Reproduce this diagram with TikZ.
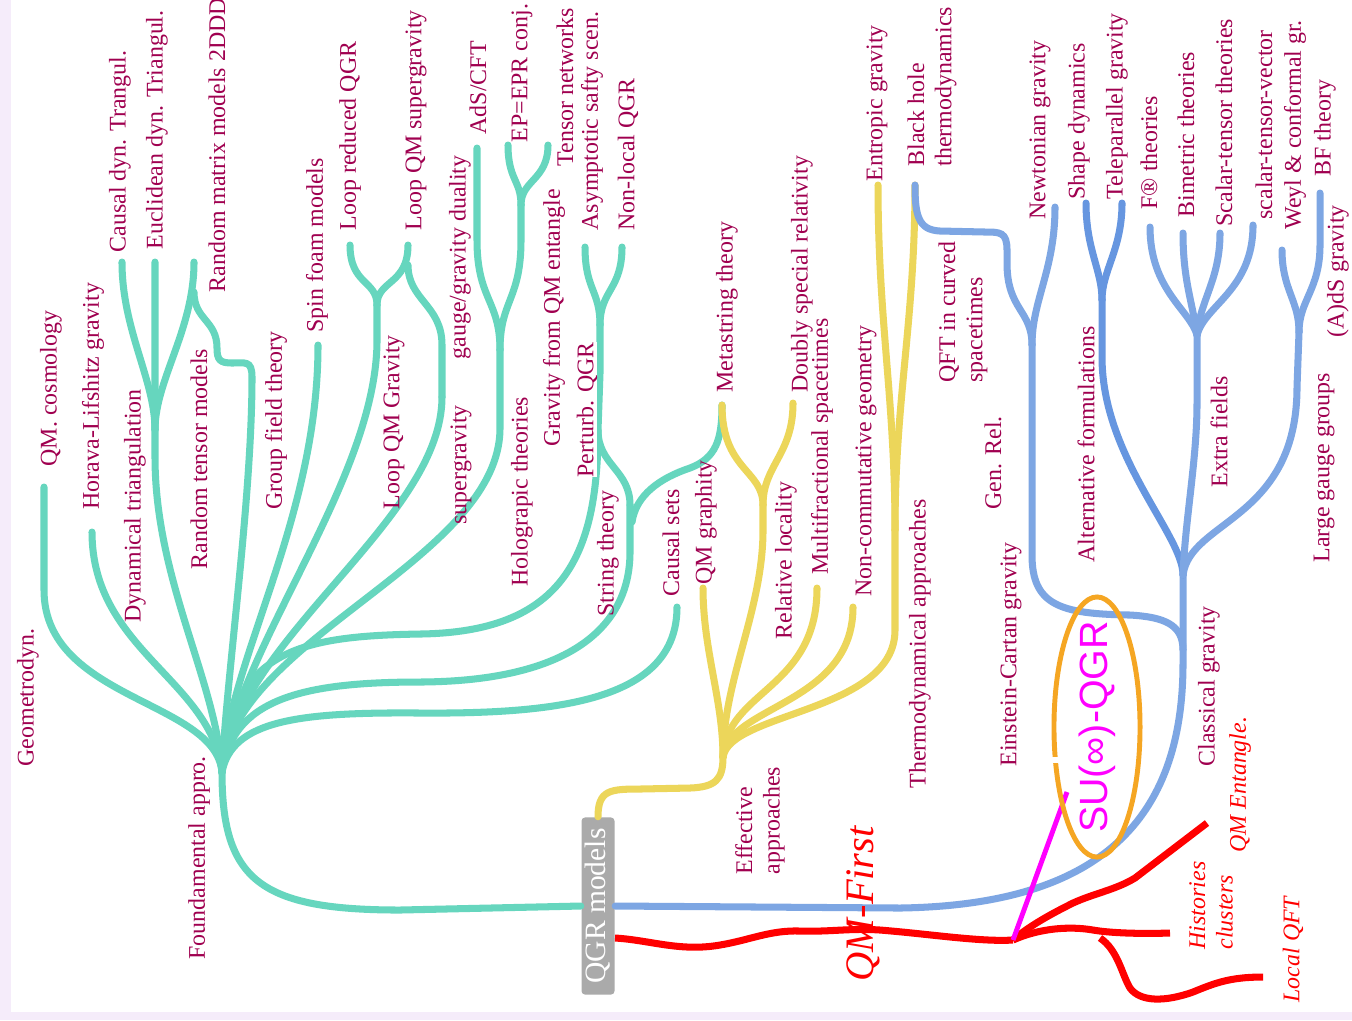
\documentclass[tikz,border=0pt]{standalone}
\usepackage{fontspec}
\setmainfont{Liberation Serif}
\newfontfamily\suqfont{Liberation Sans}
\usetikzlibrary{calc}

\definecolor{cTeal}{RGB}{102,214,190}
\definecolor{cYel}{RGB}{236,214,90}
\definecolor{cBlue}{RGB}{125,166,227}
\definecolor{cBlueD}{RGB}{102,150,224}
\definecolor{cLab}{RGB}{160,0,80}
\definecolor{cOrange}{RGB}{245,166,35}
\definecolor{cBox}{RGB}{170,170,170}
\definecolor{cLav}{RGB}{245,236,250}
\definecolor{cMag}{RGB}{255,0,255}
\definecolor{cRed}{RGB}{255,0,0}

\tikzset{
  tbr/.style={draw=cTeal, line width=2pt, line cap=round},
  ybr/.style={draw=cYel, line width=2pt, line cap=round},
  bbr/.style={draw=cBlue, line width=2pt, line cap=round},
  rln/.style={draw=cRed, line width=2pt},
  lab/.style={rotate=90, anchor=west, inner sep=0pt, text=cLab, align=left,
    font=\fontsize{6.8}{7.8}\selectfont},
  rlab/.style={lab, text=cRed, font=\fontsize{6.8}{7.8}\selectfont\itshape},
}

\begin{document}
\begin{tikzpicture}[x=0.01cm, y=-0.01cm]
			%%%%% START %%%%%
			\useasboundingbox (0,0) rectangle (1352,1020);
			\fill[cLav] (0,0) rectangle (1352,1020);
			\fill[white] (11,0) rectangle (1352,1012);
			
			\node[rotate=90, fill=cBox, text=white, rounded corners=1pt, inner sep=0pt,
			  minimum width=1.77cm, minimum height=0.33cm,
			  font=\fontsize{8.4}{9}\selectfont] (qgr) at (598,906) {QGR models};
			
			%%%%% TEAL %%%%%
			\coordinate (fa) at (222,772);
			\coordinate (geo) at (44,590);
			\coordinate (qmc) at (44,487);
			\coordinate (hor) at (92,532);
			\coordinate (dyn) at (155,457);
			\coordinate (dynm) at (155,430);
			\coordinate (cdt) at (122,262);
			\coordinate (edt) at (155,262);
			\coordinate (rmm) at (194,262);
			\coordinate (rmmB) at (194,292);
			\coordinate (rtm) at (252,377);
			\coordinate (rtmA) at (217,348);
			\coordinate (sfm) at (318,345);
			\coordinate (lqg) at (377,340);
			\coordinate (lqgm) at (377,305);
			\coordinate (lrq) at (350,245);
			\coordinate (lqs) at (408,245);
			\coordinate (lqsB) at (408,265);
			\coordinate (sugT) at (442,345);
			\coordinate (sug) at (442,397);
			\coordinate (hol) at (500,428);
			\coordinate (holm) at (500,350);
			\coordinate (ads) at (477,240);
			\coordinate (adsT) at (477,148);
			\coordinate (epr) at (521,240);
			\coordinate (eprm) at (521,205);
			\coordinate (eprT) at (508,145);
			\coordinate (tnT) at (548,145);
			\coordinate (pqgL) at (598,430);
			\coordinate (pqg) at (600,373);
			\coordinate (pqgm) at (600,325);
			\coordinate (ass) at (585,247);
			\coordinate (nlq) at (622,247);
			\coordinate (str) at (630,552);
			\coordinate (strm) at (630,505);
			\coordinate (strB) at (632,522);
			\coordinate (mA) at (690,468);
			\coordinate (meta) at (722,405);
			\coordinate (cs) at (677,607);
			\coordinate (wpA) at (420,634);
			\coordinate (wpB) at (420,682);
			\coordinate (wpC) at (420,713);
			\coordinate (wpT) at (400,910);
			
			\draw[tbr] (fa) .. controls (222,880) and (260,910) .. (wpT) -- (qgr.north);
			\draw[tbr] (fa) .. controls (215,700) and (44,700) .. (geo) -- (qmc);
			\draw[tbr] (fa) .. controls (212,680) and (92,650) .. (hor);
			\draw[tbr] (fa) .. controls (216,680) and (155,580) .. (dyn) -- (edt);
			\draw[tbr] (dynm) .. controls (155,380) and (122,330) .. (cdt);
			\draw[tbr] (dynm) .. controls (155,380) and (194,330) .. (rmm);
			\draw[tbr] (fa) .. controls (226,680) and (252,500) .. (rtm)
			  .. controls (252,360) and (245,363) .. (232,363)
			  .. controls (220,363) and (217,360) .. (rtmA)
			  .. controls (217,320) and (194,320) .. (rmmB);
			\draw[tbr] (fa) .. controls (228,660) and (318,520) .. (sfm);
			\draw[tbr] (fa) .. controls (235,650) and (377,480) .. (lqg) -- (lqgm);
			\draw[tbr] (lqgm) .. controls (377,280) and (350,285) .. (lrq);
			\draw[tbr] (lqgm) .. controls (377,280) and (408,285) .. (lqs);
			\draw[tbr] (lqsB) .. controls (408,300) and (442,305) .. (sugT) -- (sug);
			\draw[tbr] (fa) .. controls (235,640) and (442,520) .. (sug);
			\draw[tbr] (fa) .. controls (230,640) and (500,560) .. (hol) -- (holm);
			\draw[tbr] (holm) .. controls (500,300) and (477,300) .. (ads) -- (adsT);
			\draw[tbr] (holm) .. controls (500,300) and (521,300) .. (epr) -- (eprm);
			\draw[tbr] (eprm) .. controls (521,180) and (508,180) .. (eprT);
			\draw[tbr] (eprm) .. controls (521,180) and (548,180) .. (tnT);
			\draw[tbr] (fa) .. controls (230,650) and (300,636) .. (wpA)
			  .. controls (560,632) and (598,560) .. (pqgL) -- (pqg) -- (pqgm);
			\draw[tbr] (pqgm) .. controls (600,290) and (585,290) .. (ass);
			\draw[tbr] (pqgm) .. controls (600,290) and (622,290) .. (nlq);
			\draw[tbr] (fa) .. controls (232,700) and (300,682) .. (wpB)
			  .. controls (580,681) and (630,620) .. (str) -- (strm);
			\draw[tbr] (strm) .. controls (630,470) and (598,465) .. (pqgL);
			\draw[tbr] (strB) .. controls (636,495) and (660,478) .. (mA)
			  .. controls (716,458) and (722,440) .. (meta);
			\draw[tbr] (fa) .. controls (232,720) and (300,712) .. (wpC)
			  .. controls (560,714) and (677,700) .. (cs);
			
			%%%%% YELLOW %%%%%
			\coordinate (eff) at (723,757);
			\coordinate (yA) at (640,789);
			\coordinate (yB) at (690,788);
			\coordinate (qmg) at (703,588);
			\coordinate (rel) at (763,530);
			\coordinate (relm) at (763,505);
			\coordinate (dsr) at (793,403);
			\coordinate (mfs) at (817,588);
			\coordinate (ncg) at (853,607);
			\coordinate (thd) at (895,630);
			\coordinate (thdm) at (895,530);
			\coordinate (ent) at (878,185);
			\coordinate (bh) at (915,185);
			
			\draw[ybr] (qgr.east) .. controls (598,790) and (610,789) .. (yA) -- (yB)
			  .. controls (715,787) and (723,780) .. (eff);
			\draw[ybr] (eff) .. controls (723,700) and (703,650) .. (qmg);
			\draw[ybr] (eff) .. controls (723,680) and (763,610) .. (rel) -- (relm);
			\draw[ybr] (relm) .. controls (763,470) and (722,470) .. (meta);
			\draw[ybr] (relm) .. controls (763,465) and (793,455) .. (dsr);
			\draw[ybr] (eff) .. controls (726,690) and (817,690) .. (mfs);
			\draw[ybr] (eff) .. controls (728,705) and (853,705) .. (ncg);
			\draw[ybr] (eff) .. controls (730,712) and (895,712) .. (thd) -- (thdm);
			\draw[ybr] (thdm) .. controls (895,400) and (878,320) .. (ent);
			\draw[ybr] (thdm) .. controls (895,400) and (915,320) .. (bh);
			
			%%%%% BLUE %%%%%
			\coordinate (bA) at (900,908);
			\coordinate (cla) at (1183,663);
			\coordinate (ecJ) at (1183,650);
			\coordinate (clam) at (1183,575);
			\coordinate (ecA) at (1130,615);
			\coordinate (ecg) at (1032,555);
			\coordinate (gr) at (1032,413);
			\coordinate (grm) at (1032,345);
			\coordinate (qft) at (1007,263);
			\coordinate (qA) at (985,232);
			\coordinate (qB) at (940,231);
			\coordinate (nwt) at (1055,207);
			\coordinate (alt) at (1102,357);
			\coordinate (altm) at (1102,300);
			\coordinate (shp) at (1086,203);
			\coordinate (tel) at (1122,203);
			\coordinate (ext) at (1197,403);
			\coordinate (extm) at (1197,335);
			\coordinate (fr) at (1150,227);
			\coordinate (bim) at (1183,233);
			\coordinate (stt) at (1220,233);
			\coordinate (stv) at (1253,225);
			\coordinate (lgg) at (1297,387);
			\coordinate (lggm) at (1299,332);
			\coordinate (wey) at (1282,250);
			\coordinate (bf) at (1320,245);
			\coordinate (bfT) at (1320,193);
			
			\draw[bbr] (qgr.south) -- (bA) .. controls (1100,905) and (1183,820) .. (cla) -- (clam);
			\draw[bbr] (ecJ) .. controls (1183,625) and (1165,617) .. (ecA)
			  .. controls (1060,614) and (1032,605) .. (ecg) -- (gr) -- (grm);
			\draw[bbr] (grm) .. controls (1032,310) and (1007,310) .. (qft) -- (1007,250)
			  .. controls (1007,232) and (1000,232) .. (qA) -- (qB)
			  .. controls (918,230) and (915,215) .. (bh);
			\draw[bbr] (grm) .. controls (1032,300) and (1055,270) .. (nwt);
			\draw[bbr, draw=cBlueD] (clam) .. controls (1183,535) and (1102,457) .. (alt) -- (altm);
			\draw[bbr, draw=cBlueD] (altm) .. controls (1102,270) and (1086,250) .. (shp);
			\draw[bbr, draw=cBlueD] (altm) .. controls (1102,270) and (1122,250) .. (tel);
			\draw[bbr] (clam) .. controls (1185,520) and (1197,460) .. (ext) -- (extm);
			\draw[bbr] (extm) .. controls (1190,310) and (1150,290) .. (fr);
			\draw[bbr] (extm) .. controls (1192,300) and (1183,280) .. (bim);
			\draw[bbr] (extm) .. controls (1200,300) and (1220,280) .. (stt);
			\draw[bbr] (extm) .. controls (1205,305) and (1253,290) .. (stv);
			\draw[bbr] (clam) .. controls (1190,520) and (1297,520) .. (lgg) -- (lggm);
			\draw[bbr] (lggm) .. controls (1299,300) and (1282,290) .. (wey);
			\draw[bbr] (lggm) .. controls (1299,300) and (1320,290) .. (bf) -- (bfT);
			
			%%%%% RED %%%%%
			\coordinate (redS) at (615,938);
			\coordinate (jct) at (1013,940);
			\coordinate (magT) at (1067,792);
			\coordinate (qmeT) at (1207,823);
			\coordinate (hisT) at (1170,933);
			\coordinate (lowS) at (1100,938);
			\coordinate (lqfT) at (1263,977);
			
			\draw[rln] (redS) .. controls (650,940) and (680,952) .. (720,945)
			  .. controls (750,940) and (770,930) .. (800,931)
			  .. controls (830,932) and (850,928) .. (880,930)
			  .. controls (930,934) and (980,942) .. (jct);
			\draw[rln] (jct) .. controls (1030,925) and (1055,912) .. (1073,903)
			  .. controls (1095,893) and (1115,890) .. (1135,878) -- (qmeT);
			\draw[rln] (jct) .. controls (1040,928) and (1070,926) .. (1093,930)
			  .. controls (1110,933) and (1140,934) .. (hisT);
			\draw[rln] (lowS) .. controls (1118,950) and (1122,975) .. (1130,988)
			  .. controls (1140,1002) and (1165,1002) .. (1193,992)
			  .. controls (1215,983) and (1230,977) .. (lqfT);
			\draw[draw=cMag, line width=1.4pt] (jct) -- (magT);
			
			\draw[draw=cOrange, line width=1.4pt] (1097,727) ellipse [x radius=0.43cm, y radius=1.3cm];
			\draw[white, line width=1.5pt] (1048,760) -- (1060,760);
			
			%%%%% LABELS %%%%%
			\node[lab] (geolab) at (28,767) {Geometrodyn.};
			\node[lab] (qmclab) at (51,467) {QM. cosmology};
			\node[lab] (horlab) at (93,510) {Horava-Lifshitz gravity};
			\node[lab] (dynlab) at (135,623) {Dynamical triangulation};
			\node[lab] (cdtlab) at (120,253) {Causal dyn. Trangul.};
			\node[lab] (edtlab) at (157,250) {Euclidean dyn. Triangul.};
			\node[lab] (rmmlab) at (217,293) {Random matrix models 2DDD};
			\node[lab] (rtmlab) at (199,570) {Random tensor models};
			\node[lab, fill=white] (gftlab) at (276,510) {Group field theory};
			\node[lab] (sfmlab) at (317,333) {Spin foam models};
			\node[lab] (lrqlab) at (350,231) {Loop reduced QGR};
			\node[lab] (lqslab) at (416,231) {Loop QM supergravity};
			\node[lab] (lqglab) at (394,510) {Loop QM Gravity};
			\node[lab] (gglab) at (460,360) {gauge/gravity duality};
			\node[lab] (suglab) at (461,525) {supergravity};
			\node[lab] (adslab) at (478,135) {AdS/CFT};
			\node[lab] (eprlab) at (522,143) {EP=EPR conj.};
			\node[lab] (tnlab) at (565,167) {Tensor networks};
			\node[lab] (asslab) at (592,231) {Asymptotic safty scen.};
			\node[lab] (nlqlab) at (628,231) {Non-local QGR};
			\node[lab] (hollab) at (522,587) {Holograpic theories};
			\node[lab] (gqelab) at (554,447) {Gravity from QM entangle};
			\node[lab, fill=white] (pqglab) at (587,478) {Perturb. QGR};
			\node[lab] (strlab) at (608,617) {String theory};
			\node[lab] (cslab) at (671,597) {Causal sets};
			\node[lab] (qmglab) at (706,585) {QM graphity};
			\node[lab] (metlab) at (727,393) {Metastring theory};
			\node[lab] (rellab) at (786,640) {Relative locality};
			\node[lab] (dsrlab) at (802,393) {Doubly special relativity};
			\node[lab] (mfslab) at (822,575) {Multifractional spacetimes};
			\node[lab] (ncglab) at (866,597) {Non-commutative geometry};
			\node[lab] (entlab) at (877,182) {Entropic gravity};
			\node[lab] (bhlab) at (932,167) {Black hole\\thermodynamics};
			\node[lab] (qftlab) at (963,383) {QFT in curved\\spacetimes};
			\node[lab] (grlab) at (993,510) {Gen. Rel.};
			\node[lab] (thdlab) at (920,789) {Thermodynamical approaches};
			\node[lab] (ecglab) at (1011,767) {Einstein-Cartan gravity};
			\node[lab] (altlab) at (1086,563) {Alternative formulations};
			\node[lab] (clalab) at (1209,767) {Classical gravity};
			\node[lab] (extlab) at (1219,488) {Extra fields};
			\node[lab] (lgglab) at (1324,563) {Large gauge groups};
			\node[lab] (nwtlab) at (1040,220) {Newtonian gravity};
			\node[lab] (shplab) at (1079,200) {Shape dynamics};
			\node[lab] (tellab) at (1117,200) {Teleparallel gravity};
			\node[lab] (frlab) at (1149,210) {F® theories};
			\node[lab] (bimlab) at (1186,218) {Bimetric theories};
			\node[lab] (sttlab) at (1224,227) {Scalar-tensor theories};
			\node[lab] (stvlab) at (1264,220) {scalar-tensor-vector};
			\node[lab] (weylab) at (1295,230) {Weyl \& conformal gr.};
			\node[lab] (bflab) at (1325,177) {BF theory};
			\node[lab] (adsglab) at (1338,338) {(A)dS gravity};
			\node[lab] (efflab) at (760,875) {Effective\\approaches};
			\node[lab] (falab) at (199,960) {Foundamental appro.};
			
			\node[rlab, font=\fontsize{11.5}{13}\selectfont\itshape] (qmflab) at (863,982) {QM-First};
			\node[rotate=90, inner sep=0pt, text=cMag, font=\suqfont\fontsize{11.2}{13}\selectfont] (suqlab) at (1097,727) {SU(∞)-QGR};
			\node[rlab] (qmelab) at (1240,853) {QM Entangle.};
			\node[rlab] (hislab) at (1211,950) {Histories\\clusters};
			\node[rlab] (lqflab) at (1293,1003) {Local QFT};
			%%%%% END %%%%%
\end{tikzpicture}
\end{document}
